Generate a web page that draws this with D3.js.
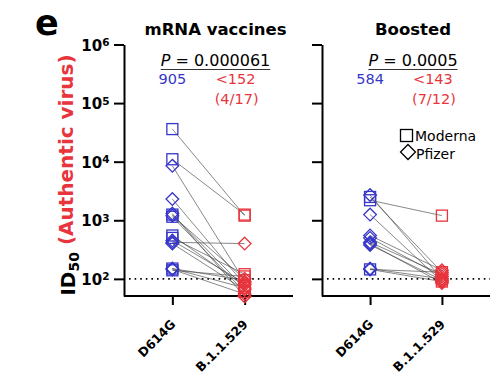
<!DOCTYPE html>
<html>
<head>
<meta charset="utf-8">
<script src="https://cdn.jsdelivr.net/npm/d3@7"></script>
<style>
  body { margin: 0; background: #fff; }
  text { font-family: "DejaVu Sans", sans-serif; }
</style>
</head>
<body>
<script>
// ---- data ----
var variants = ["D614G", "B.1.1.529"];
var yTicks = [1e2, 1e3, 1e4, 1e5, 1e6];

// mRNA vaccines: one entry per person
var mrnaVaccine = ["Moderna","Moderna","Pfizer","Pfizer","Moderna","Pfizer","Moderna","Moderna","Pfizer","Pfizer","Pfizer","Moderna","Pfizer","Moderna","Pfizer","Moderna","Pfizer"];
var mrnaD614G   = [36000, 11000, 8500, 2300, 1250, 1200, 1150, 550, 420, 450, 400, 150, 145, 140, 150, 500, 1300];
var mrnaOmicron = [1200, 1250, 90, 80, 70, 100, 60, 75, 400, 85, 65, 95, 55, 110, 70, 120, 50];

// Boosted
var boostVaccine = ["Moderna","Pfizer","Moderna","Pfizer","Pfizer","Pfizer","Pfizer","Pfizer","Pfizer","Pfizer","Pfizer","Moderna"];
var boostD614G   = [2200, 2700, 2500, 1250, 550, 500, 400, 420, 380, 150, 145, 145];
var boostOmicron = [1200, 100, 130, 90, 140, 110, 85, 120, 95, 100, 130, 90];

var panels = [
  { title: "mRNA vaccines", p: "0.000061", gmt: "905", gmo: "<152", frac: "(4/17)",
    vaccine: mrnaVaccine, a: mrnaD614G, b: mrnaOmicron, x0: 124, x1: 293, labels: true },
  { title: "Boosted", p: "0.0005", gmt: "584", gmo: "<143", frac: "(7/12)",
    vaccine: boostVaccine, a: boostD614G, b: boostOmicron, x0: 322, x1: 490, labels: false }
];

var width = 504, height = 382;
var blue = "#3636c8", red = "#e8343c";

var svg = d3.select("body").append("svg").attr("width", width).attr("height", height);

var y = d3.scaleLog().domain([51, 1e6]).range([296, 44.5]);

function marker(g, shape, cx, cy, color, s) {
  s = s || 5.5;
  if (shape == "Moderna") {
    g.append("rect").attr("x", cx - s).attr("y", cy - s).attr("width", 2 * s).attr("height", 2 * s)
      .attr("fill", "none").attr("stroke", color).attr("stroke-width", 1.3);
  } else {
    var d = s * 1.15;
    g.append("path").attr("d", "M" + cx + "," + (cy - d) + "l" + d + "," + d + "l" + (-d) + "," + d + "l" + (-d) + "," + (-d) + "z")
      .attr("fill", "none").attr("stroke", color).attr("stroke-width", 1.3);
  }
}

panels.forEach(function(pn) {
  var x = d3.scalePoint().domain(variants).range([pn.x0, pn.x1]).padding(0.669);
  var g = svg.append("g");

  // y axis
  var yAxis = d3.axisLeft(y).tickValues(yTicks).tickSize(10).tickSizeOuter(0).tickFormat("");
  var ya = g.append("g").attr("transform", "translate(" + pn.x0 + ",0)").call(yAxis);
  ya.select(".domain").attr("stroke-width", 2);
  ya.selectAll(".tick line").attr("stroke-width", 2);
  if (pn.labels) {
    ya.selectAll(".tick").append("text")
      .attr("x", -13).attr("dy", "0.38em").attr("text-anchor", "end")
      .attr("fill", "#000").style("font-size", "15px").style("font-weight", "bold")
      .each(function(d) {
        var t = d3.select(this);
        t.append("tspan").text("10");
        t.append("tspan").attr("dy", "-0.45em").style("font-size", "10.5px").text(Math.round(Math.log10(d)));
        t.append("tspan").attr("dy", "0.45em").text("\u200a");
      });
  }

  // x axis
  var xa = g.append("g").attr("transform", "translate(0,296)")
    .call(d3.axisBottom(x).tickSize(9).tickSizeOuter(0).tickFormat(""));
  xa.select(".domain").attr("stroke-width", 2).attr("d", "M" + pn.x0 + ",0H" + pn.x1);
  xa.selectAll(".tick line").attr("stroke-width", 2);
  // labels slanted 45 degrees, ending just below each tick
  g.selectAll(".xlab").data(variants).enter().append("text")
    .attr("transform", function(d) { return "translate(" + (x(d) + 4) + ",325) rotate(-45)"; })
    .attr("text-anchor", "end")
    .style("font-size", "12.5px").style("font-weight", "bold")
    .text(function(d) { return d; });

  // limit of detection
  g.append("line").attr("x1", pn.x0 + 5).attr("x2", pn.x1).attr("y1", y(100)).attr("y2", y(100))
    .attr("stroke", "#000").attr("stroke-width", 1.6).attr("stroke-dasharray", "1.6,4");

  // paired lines
  var idx = d3.range(pn.a.length);
  g.selectAll(".pair").data(idx).enter().append("line")
    .attr("x1", x(variants[0])).attr("x2", x(variants[1]))
    .attr("y1", function(i) { return y(pn.a[i]); })
    .attr("y2", function(i) { return y(pn.b[i]); })
    .attr("stroke", "#444").attr("stroke-width", 0.8).attr("stroke-opacity", 0.8);

  idx.forEach(function(i) {
    marker(g, pn.vaccine[i], x(variants[0]), y(pn.a[i]), blue);
    marker(g, pn.vaccine[i], x(variants[1]), y(pn.b[i]), red);
  });

  // title and stats
  var cx = (pn.x0 + pn.x1) / 2 + 7;
  g.append("text").attr("x", cx).attr("y", 35).attr("text-anchor", "middle")
    .style("font-size", "16.5px").style("font-weight", "bold").text(pn.title);
  var pt = g.append("text").attr("x", cx).attr("y", 66).attr("text-anchor", "middle")
    .style("font-size", "16px");
  pt.append("tspan").style("font-style", "italic").text("P");
  pt.append("tspan").text(" = " + pn.p);
  var bb = pt.node().getBBox();
  g.append("line").attr("x1", bb.x).attr("x2", bb.x + bb.width).attr("y1", 69.5).attr("y2", 69.5)
    .attr("stroke", "#333").attr("stroke-width", 1.2);
  g.append("text").attr("x", x(variants[0])).attr("y", 84).attr("text-anchor", "middle")
    .attr("fill", blue).style("font-size", "14.5px").text(pn.gmt);
  g.append("text").attr("x", x(variants[1]) - 9).attr("y", 84).attr("text-anchor", "middle")
    .attr("fill", red).style("font-size", "14.5px").text(pn.gmo);
  g.append("text").attr("x", x(variants[1]) - 8).attr("y", 104).attr("text-anchor", "middle")
    .attr("fill", red).style("font-size", "14.5px").text(pn.frac);
});

// legend
var leg = svg.append("g");
marker(leg, "Moderna", 406.5, 135.5, "#000", 6);
marker(leg, "Pfizer", 408, 152, "#000", 6.5);
leg.append("text").attr("x", 415).attr("y", 141).style("font-size", "14px").text("Moderna");
leg.append("text").attr("x", 416).attr("y", 159).style("font-size", "14px").text("Pfizer");

// panel letter
svg.append("text").attr("x", 35).attr("y", 35).style("font-size", "35px").style("font-weight", "bold").text("e");

// y axis title
var yt = svg.append("text").attr("transform", "translate(75,175) rotate(-90)")
  .attr("text-anchor", "middle").style("font-size", "20px").style("font-weight", "bold");
yt.append("tspan").text("ID");
yt.append("tspan").attr("dy", "0.3em").style("font-size", "14px").text("50");
yt.append("tspan").attr("dy", "-0.3em").attr("fill", red).text(" (Authentic virus)");
</script>
</body>
</html>
